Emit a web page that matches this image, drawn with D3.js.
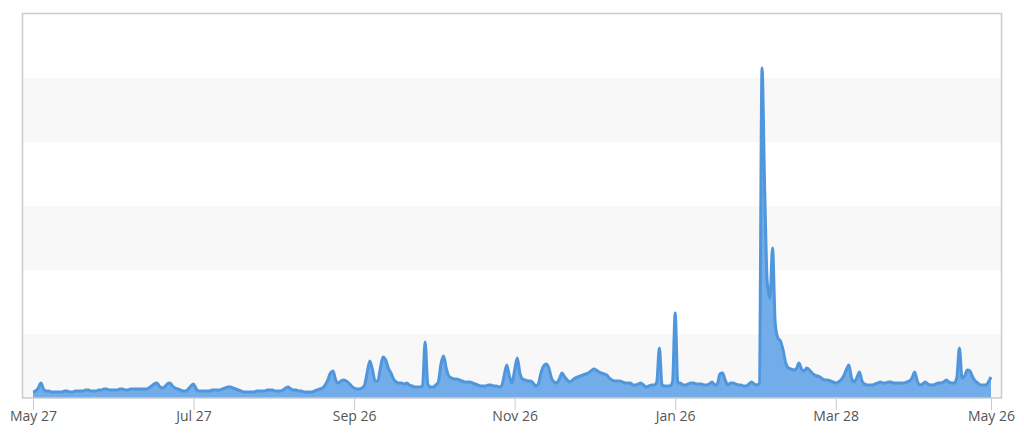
<!DOCTYPE html>
<html>
<head>
<meta charset="utf-8">
<script src="https://cdn.jsdelivr.net/npm/d3@7/dist/d3.min.js"></script>
<style>
  html, body { margin: 0; padding: 0; background: #fff; }
  svg { display: block; }
  .tick text { font-family: "Open Sans", sans-serif; font-size: 14px; fill: #555; }
</style>
</head>
<body>
<svg id="chart" width="1024" height="435"></svg>
<script>
// ---- data ----
const startDate = "2017-05-27";
const values = [
  6,7,10,15,9,7,7,6,6,6,
  6,6,7,7,6,6,7,7,7,7,
  8,8,7,7,7,8,8,9,9,8,
  8,8,8,9,9,8,8,9,9,9,
  9,9,9,9,10,12,14,15,12,10,
  11,14,15,12,10,9,8,7,7,9,
  12,14,9,7,7,7,7,7,8,8,
  8,8,9,10,11,11,10,9,8,7,
  6,6,6,6,6,7,7,7,7,8,
  8,8,7,7,7,8,10,11,9,8,
  8,7,7,6,6,6,6,7,8,9,
  10,13,18,25,27,18,15,17,18,17,
  15,12,10,9,9,10,13,26,37,28,
  17,17,30,41,38,30,25,19,16,15,
  15,14,15,13,12,11,11,11,12,56,
  14,11,11,13,16,34,42,30,22,20,
  19,19,18,17,16,16,16,15,14,13,
  12,12,12,13,13,12,12,11,12,22,
  33,22,15,28,40,25,19,18,17,17,
  15,12,14,25,32,34,30,20,16,15,
  19,25,21,18,16,18,20,21,22,23,
  24,25,27,29,28,26,25,24,23,20,
  18,17,17,17,16,15,15,15,13,13,
  14,15,13,11,12,13,13,16,50,13,
  12,12,12,16,85,15,15,13,13,14,
  15,15,14,14,14,13,13,14,16,13,
  14,24,25,18,13,15,15,14,13,13,
  12,12,14,16,14,13,15,330,210,115,
  100,150,75,60,57,48,35,30,29,28,
  29,35,29,27,30,28,25,23,22,21,
  19,18,18,17,16,15,16,18,22,28,
  33,20,16,20,26,17,14,13,13,13,
  14,15,16,15,15,16,16,15,15,15,
  15,15,16,17,20,26,17,13,14,16,
  14,13,13,14,15,15,16,18,16,15,
  15,20,50,20,22,28,27,21,17,15,
  13,13,13,16,21
];
const tickDates = ["2017-05-27","2017-07-27","2017-09-26","2017-11-26","2018-01-26","2018-03-28","2018-05-26"];
const bandEdges = [0, 64, 128, 192, 256, 320, 384];

// ---- layout ----
const frame = { left: 22.5, top: 13.5, right: 1001.5, bottom: 398 };
const parse = d3.utcParse("%Y-%m-%d");
const t0 = parse(startDate);
const data = values.map((v, i) => ({ date: d3.utcDay.offset(t0, i), value: v }));

const x = d3.scaleUtc()
  .domain([parse(tickDates[0]), parse(tickDates[tickDates.length - 1])])
  .range([33, 991]);
const y = d3.scaleLinear().domain([0, 384]).range([frame.bottom, frame.top + 0.5]);

const svg = d3.select("#chart");

// alternating bands
for (let i = 0; i < bandEdges.length - 1; i++) {
  if (i % 2 === 0) {
    svg.append("rect")
      .attr("x", frame.left)
      .attr("width", frame.right - frame.left)
      .attr("y", y(bandEdges[i + 1]))
      .attr("height", y(bandEdges[i]) - y(bandEdges[i + 1]))
      .attr("fill", "#f8f8f8");
  }
}

// area + line
const area = d3.area()
  .x(d => x(d.date))
  .y0(y(0))
  .y1(d => y(d.value))
  .curve(d3.curveMonotoneX);
const line = d3.line()
  .x(d => x(d.date))
  .y(d => y(d.value))
  .curve(d3.curveMonotoneX);

svg.append("path").datum(data)
  .attr("d", area)
  .attr("fill", "#72ace9");
svg.append("path").datum(data)
  .attr("d", line)
  .attr("fill", "none")
  .attr("stroke", "#5096dc")
  .attr("stroke-width", 3)
  .attr("stroke-linejoin", "round");

// frame
svg.append("rect")
  .attr("x", frame.left).attr("y", frame.top)
  .attr("width", frame.right - frame.left)
  .attr("height", frame.bottom - frame.top)
  .attr("fill", "none")
  .attr("stroke", "#cccccc")
  .attr("stroke-width", 1.5);

// x axis
const fmt = d3.utcFormat("%b %d");
const axis = d3.axisBottom(x)
  .tickValues(tickDates.map(parse))
  .tickFormat(fmt)
  .tickSize(12)
  .tickPadding(1);
const g = svg.append("g")
  .attr("transform", `translate(0,${frame.bottom})`)
  .call(axis);
g.select(".domain").remove();
g.selectAll(".tick line").attr("stroke", "#cccccc");
</script>
</body>
</html>
